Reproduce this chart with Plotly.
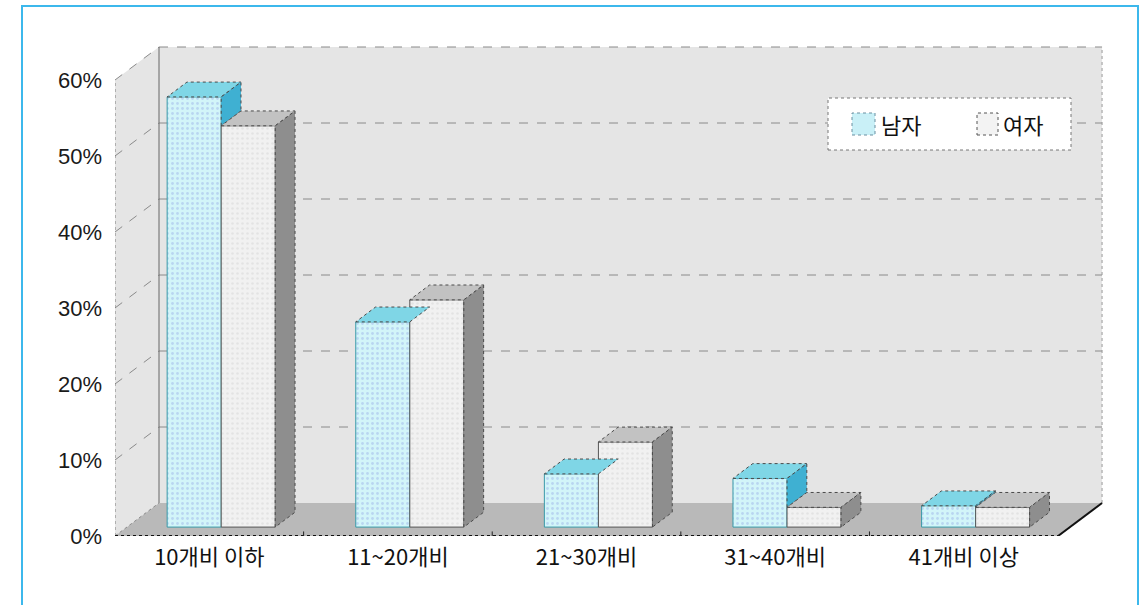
import plotly.graph_objects as go

categories = ["10개비 이하", "11~20개비", "21~30개비", "31~40개비", "41개비 이상"]
male = [56.6, 27.0, 7.0, 6.4, 2.8]
female = [52.8, 29.9, 11.2, 2.6, 2.6]
y_ticks = [0, 10, 20, 30, 40, 50, 60]
series_names = ["남자", "여자"]

# ---- geometry (data units) ----
pos = list(range(len(categories)))
DX, DY = 0.2333, 4.342          # full floor depth
FX, FY = 0.27 * DX, 0.27 * DY   # bar front plane offset
BDX, BDY = 0.45 * DX, 0.45 * DY # bar depth
W = 0.2865                      # bar width
XMIN, XMAX = -0.5, 4.5
YTOP = 60

fig = go.Figure()

male_col = dict(front="#d2f5f9", top="#7fd6e6", side="#3fb0d2")
fem_col = dict(front="#f1f1f1", top="#c2c2c2", side="#8e8e8e")
edge = dict(color="#4a4a4a", width=1, dash="dot")

male_pat = dict(shape=".", fgcolor="#9fb8e8", bgcolor=male_col["front"], size=5, solidity=0.25)
fem_pat = dict(shape=".", fgcolor="#d6d6d6", bgcolor=fem_col["front"], size=5, solidity=0.2)

# front faces as bars
fig.add_trace(go.Bar(
    x=pos, y=male, base=FY, width=W, offset=FX - W, name=series_names[0],
    marker=dict(color=male_col["front"], line=dict(color="#3a9aa8", width=1), pattern=male_pat),
    hoverinfo="skip", showlegend=False))
fig.add_trace(go.Bar(
    x=pos, y=female, base=FY, width=W, offset=FX, name=series_names[1],
    marker=dict(color=fem_col["front"], line=dict(color="#555555", width=1), pattern=fem_pat),
    hoverinfo="skip", showlegend=False))


def poly(xs, ys, color):
    fig.add_trace(go.Scatter(x=xs + [xs[0]], y=ys + [ys[0]], mode="lines", fill="toself",
                             fillcolor=color, line=edge, showlegend=False, hoverinfo="skip"))


for i, p in enumerate(pos):
    mv, fv = male[i], female[i]
    # male
    x0, x1 = p + FX - W, p + FX
    t = FY + mv
    poly([x0, x1, x1 + BDX, x0 + BDX], [t, t, t + BDY, t + BDY], male_col["top"])
    if mv > fv:
        b = FY + fv
        poly([x1, x1, x1 + BDX, x1 + BDX], [b, t, t + BDY, b + BDY], male_col["side"])
    # female
    x0, x1 = p + FX, p + FX + W
    t = FY + fv
    poly([x0, x1, x1 + BDX, x0 + BDX], [t, t, t + BDY, t + BDY], fem_col["top"])
    poly([x1, x1, x1 + BDX, x1 + BDX], [FY, t, t + BDY, FY + BDY], fem_col["side"])

# ---- walls (shapes below traces) ----
shapes = []
wall = "#e5e5e5"
shapes.append(dict(type="rect", xref="x", yref="y", x0=XMIN + DX, x1=XMAX + DX, y0=DY, y1=YTOP + DY,
                   fillcolor=wall, line=dict(width=0), layer="below"))
shapes.append(dict(type="path", xref="x", yref="y",
                   path=f"M {XMIN},0 L {XMIN},{YTOP} L {XMIN+DX},{YTOP+DY} L {XMIN+DX},{DY} Z",
                   fillcolor=wall, line=dict(width=0), layer="below"))
shapes.append(dict(type="path", xref="x", yref="y",
                   path=f"M {XMIN},0 L {XMAX},0 L {XMAX+DX},{DY} L {XMIN+DX},{DY} Z",
                   fillcolor="#b9b9b9", line=dict(width=0), layer="below"))
for v in y_ticks[1:]:
    shapes.append(dict(type="line", xref="x", yref="y", x0=XMIN + DX, x1=XMAX + DX, y0=v + DY, y1=v + DY,
                       line=dict(color="#8a8a8a", width=1, dash="dash"), layer="below"))
    shapes.append(dict(type="line", xref="x", yref="y", x0=XMIN, x1=XMIN + DX, y0=v, y1=v + DY,
                       line=dict(color="#8a8a8a", width=1, dash="dash"), layer="below"))
shapes.append(dict(type="line", xref="x", yref="y", x0=XMIN + DX, x1=XMIN + DX, y0=DY, y1=YTOP + DY,
                   line=dict(color="#666666", width=1), layer="below"))
shapes.append(dict(type="line", xref="x", yref="y", x0=XMAX + DX, x1=XMAX + DX, y0=DY, y1=YTOP + DY,
                   line=dict(color="#9a9a9a", width=1, dash="dot"), layer="below"))
shapes.append(dict(type="line", xref="x", yref="y", x0=XMIN, x1=XMIN, y0=0, y1=YTOP,
                   line=dict(color="#7a7a7a", width=1, dash="dot"), layer="below"))
shapes.append(dict(type="line", xref="x", yref="y", x0=XMIN, x1=XMAX, y0=0, y1=0,
                   line=dict(color="#111111", width=2, dash="dot"), layer="above"))
shapes.append(dict(type="line", xref="x", yref="y", x0=XMAX, x1=XMAX + DX, y0=0, y1=DY,
                   line=dict(color="#111111", width=2), layer="below"))
shapes.append(dict(type="line", xref="x", yref="y", x0=XMIN, x1=XMIN + DX, y0=0, y1=DY,
                   line=dict(color="#8a8a8a", width=1, dash="dot"), layer="below"))
# category boundary ticks on the floor front edge
for k in range(1, len(categories)):
    shapes.append(dict(type="line", xref="x", yref="y", x0=XMIN + k, x1=XMIN + k, y0=0, y1=0.6,
                       line=dict(color="#222222", width=1), layer="above"))

# ---- legend drawn as a box (paper coords) ----
def px(x):
    return (x - 115) / 988


def py(y):
    return (536 - y) / 490


shapes.append(dict(type="rect", xref="paper", yref="paper", x0=px(828), x1=px(1071), y0=py(150), y1=py(98),
                   fillcolor="white", line=dict(color="#777777", width=1, dash="dot"), layer="above"))
shapes.append(dict(type="rect", xref="paper", yref="paper", x0=px(852), x1=px(875), y0=py(135), y1=py(113),
                   fillcolor="#c9f0f7", line=dict(color="#6a8fa0", width=1, dash="dot"), layer="above"))
shapes.append(dict(type="rect", xref="paper", yref="paper", x0=px(977), x1=px(998), y0=py(135), y1=py(113),
                   fillcolor="#f3f3f3", line=dict(color="#555555", width=1, dash="dot"), layer="above"))
annotations = [
    dict(xref="paper", yref="paper", x=px(879), y=py(124), text=series_names[0], showarrow=False,
         xanchor="left", yanchor="middle", font=dict(family="Noto Sans CJK KR", size=22, color="#111111")),
    dict(xref="paper", yref="paper", x=px(1001), y=py(124), text=series_names[1], showarrow=False,
         xanchor="left", yanchor="middle", font=dict(family="Noto Sans CJK KR", size=22, color="#111111")),
]

# outer frame
shapes.append(dict(type="rect", xref="paper", yref="paper", x0=px(22), x1=px(1138), y0=py(640), y1=py(6),
                   line=dict(color="#3cb8ec", width=2), fillcolor="rgba(0,0,0,0)", layer="above"))

fig.update_layout(
    width=1141, height=605,
    margin=dict(l=115, r=38, t=46, b=69),
    paper_bgcolor="white", plot_bgcolor="white",
    barmode="overlay",
    shapes=shapes,
    annotations=annotations,
    showlegend=False,
    xaxis=dict(range=[XMIN, XMAX + DX + 0.005], tickvals=pos, ticktext=categories,
               showgrid=False, zeroline=False, showline=False, ticks="",
               tickfont=dict(family="Noto Sans CJK KR", size=22, color="#111111"),
               ticklabelstandoff=6, fixedrange=True),
    yaxis=dict(range=[0, 490 / 7.6], tickvals=y_ticks, ticktext=[f"{v}%" for v in y_ticks],
               showgrid=False, zeroline=False, showline=False, ticks="",
               tickfont=dict(family="Liberation Sans", size=22, color="#1a1a1a"),
               ticklabelstandoff=12, fixedrange=True),
)

fig.write_html("out.html")
